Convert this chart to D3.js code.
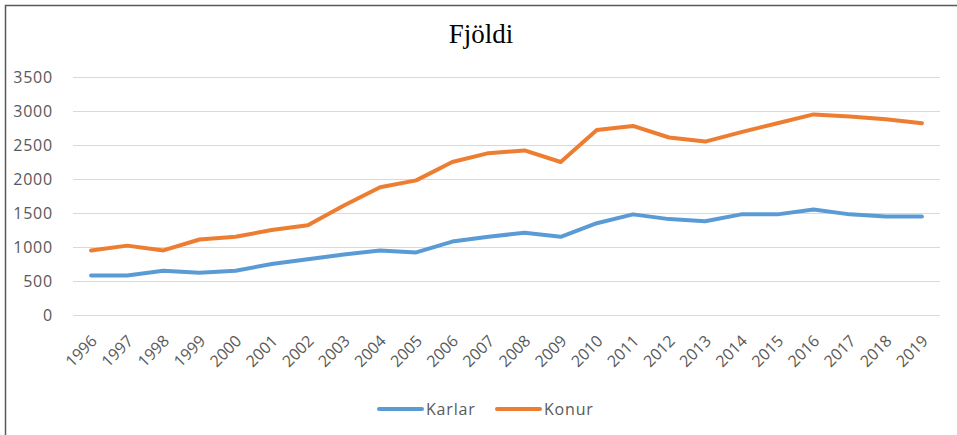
<!DOCTYPE html>
<html>
<head>
<meta charset="utf-8">
<script src="https://cdn.jsdelivr.net/npm/d3@7"></script>
<style>
  body { margin: 0; background: #fff; }
  svg text { font-family: "Open Sans", "Liberation Sans", sans-serif; fill: #595959; }
</style>
</head>
<body>
<div id="chart"></div>
<script>
const years = ["1996","1997","1998","1999","2000","2001","2002","2003","2004","2005","2006","2007",
               "2008","2009","2010","2011","2012","2013","2014","2015","2016","2017","2018","2019"]
const karlar = [580,580,650,620,650,750,820,890,950,920,1080,1150,
                1210,1150,1350,1480,1410,1380,1480,1480,1550,1480,1450,1450]
const konur = [950,1020,950,1110,1150,1250,1320,1610,1880,1980,2250,2380,
               2420,2250,2720,2780,2610,2550,2690,2820,2950,2920,2880,2820]
const yTicks = [0,500,1000,1500,2000,2500,3000,3500]
const seriesNames = ["Karlar", "Konur"]
const colors = ["#5b9bd5", "#ed7d31"]

const width = 957, height = 435
const plotLeft = 73, plotRight = 940, plotTop = 77, plotBottom = 315

const svg = d3.select("#chart").append("svg")
  .attr("width", width)
  .attr("height", height)

// chart frame (only top and left edges fall inside the picture)
svg.append("path")
  .attr("d", "M5.5,440 V5.5 H960")
  .attr("fill", "none")
  .attr("stroke", "#595959")
  .attr("stroke-width", 1.5)

svg.append("text")
  .attr("x", 481).attr("y", 43)
  .attr("text-anchor", "middle")
  .style("font-family", "'Liberation Serif', 'Times New Roman', serif")
  .style("font-size", "27px")
  .style("fill", "#000")
  .text("Fjöldi")

const x = d3.scaleBand().domain(years).range([plotLeft, plotRight])
const y = d3.scaleLinear().domain([0, 3500]).range([plotBottom, plotTop])

// gridlines
svg.append("g").selectAll("line").data(yTicks).enter().append("line")
  .attr("x1", plotLeft).attr("x2", plotRight)
  .attr("y1", d => Math.round(y(d)) + 0.5).attr("y2", d => Math.round(y(d)) + 0.5)
  .attr("stroke", "#d9d9d9").attr("stroke-width", 1)

// y axis labels
const yAxis = svg.append("g")
  .attr("transform", "translate(" + (plotLeft - 20) + ",0)")
  .call(d3.axisLeft(y).tickValues(yTicks).tickFormat(d3.format("d")).tickSize(0).tickPadding(0))
yAxis.select(".domain").remove()
yAxis.selectAll("text")
  .style("font-size", "16px")
  .style("letter-spacing", "0.8px")
  .style("font-family", "'Open Sans', sans-serif")
  .attr("fill", "#595959")

// x axis labels
const xAxis = svg.append("g")
  .attr("transform", "translate(0," + plotBottom + ")")
  .call(d3.axisBottom(x).tickSize(0).tickPadding(0))
xAxis.select(".domain").remove()
xAxis.selectAll("text")
  .style("font-size", "16px")
  .style("font-family", "'Open Sans', sans-serif")
  .attr("fill", "#595959")
  .attr("text-anchor", "end")
  .attr("dy", null)
  .attr("y", 0)
  .attr("transform", "translate(7,27) rotate(-45)")

const line = d3.line()
  .x((d, i) => x(years[i]) + x.bandwidth() / 2)
  .y(d => y(d))

;[karlar, konur].forEach(function(vals, k) {
  svg.append("path")
    .datum(vals)
    .attr("d", line)
    .attr("fill", "none")
    .attr("stroke", colors[k])
    .attr("stroke-width", 4)
    .attr("stroke-linejoin", "round")
    .attr("stroke-linecap", "round")
})

// legend
const legendX = [379, 497]
const legend = svg.append("g").selectAll("g").data(seriesNames).enter().append("g")
  .attr("transform", (d, i) => "translate(" + legendX[i] + ",409)")
legend.append("line")
  .attr("x1", 0).attr("x2", 43).attr("y1", 0).attr("y2", 0)
  .attr("stroke", (d, i) => colors[i])
  .attr("stroke-width", 4)
  .attr("stroke-linecap", "round")
legend.append("text")
  .attr("x", 47).attr("y", 6)
  .style("font-size", "16px")
  .style("letter-spacing", "0.8px")
  .text(d => d)
</script>
</body>
</html>
